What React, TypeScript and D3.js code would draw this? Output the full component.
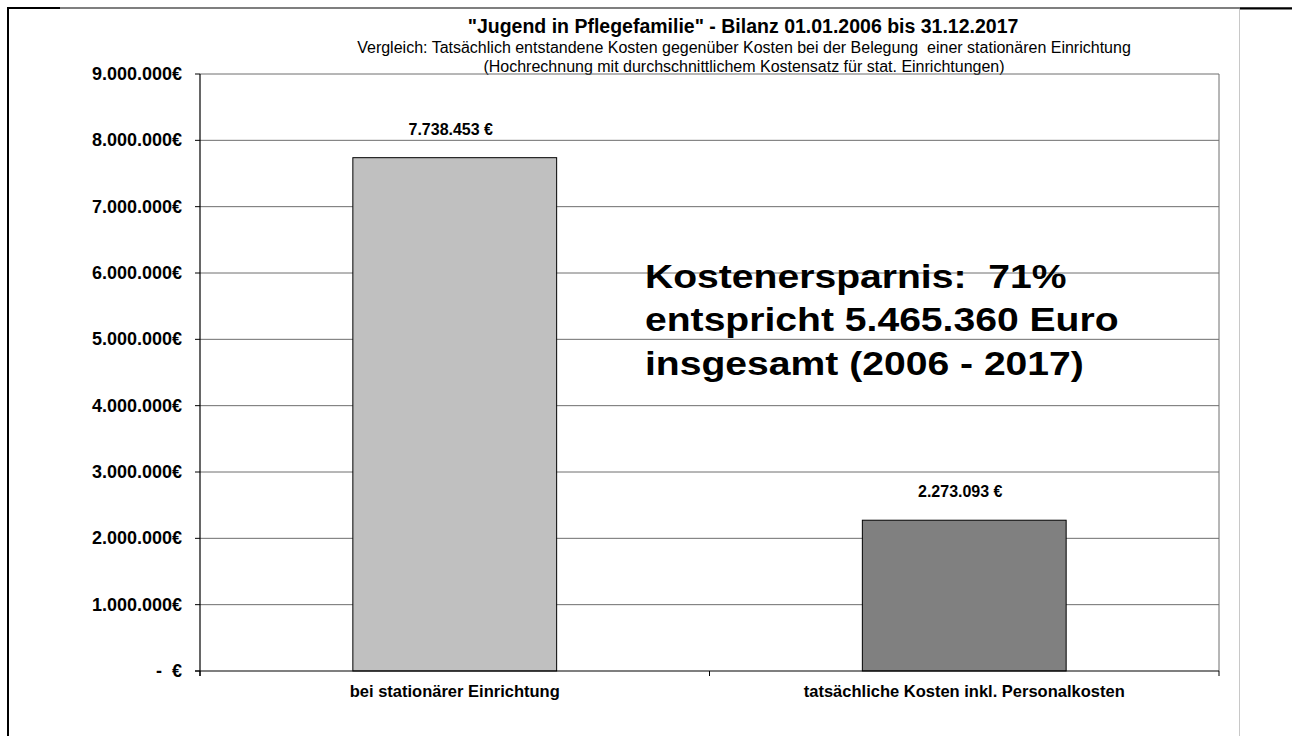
import React from "react";
import * as d3 from "d3";

const categories = ["bei stationärer Einrichtung", "tatsächliche Kosten inkl. Personalkosten"];
const values = [7738453, 2273093];
const barColors = ["#c0c0c0", "#808080"];
const yTicks = [0, 1000000, 2000000, 3000000, 4000000, 5000000, 6000000, 7000000, 8000000, 9000000];
const title = "\"Jugend in Pflegefamilie\" - Bilanz 01.01.2006 bis 31.12.2017";
const subtitle = [
  "Vergleich: Tatsächlich entstandene Kosten gegenüber Kosten bei der Belegung  einer stationären Einrichtung",
  "(Hochrechnung mit durchschnittlichem Kostensatz für stat. Einrichtungen)",
];
const annotation = ["Kostenersparnis:  71%", "entspricht 5.465.360 Euro", "insgesamt (2006 - 2017)"];

const W = 1292;
const H = 736;
const plot = { left: 200, right: 1219, top: 74, bottom: 671 };
const FONT = "'Liberation Sans', Arial, Helvetica, sans-serif";

const de = d3.formatLocale({ decimal: ",", thousands: ".", grouping: [3], currency: ["", "€"] });
const fmtInt = de.format(",.0f");
const tickLabel = (v: number) => (v === 0 ? "-  €" : fmtInt(v) + "€");
const barLabel = (v: number) => fmtInt(v) + " €";

export default function App() {
  const y = d3.scaleLinear().domain([0, 9000000]).range([plot.bottom, plot.top]);
  const x = d3
    .scaleBand<string>()
    .domain(categories)
    .range([plot.left, plot.right])
    .paddingInner(0.6)
    .paddingOuter(0.3);
  const step = x.step();
  const boundaries = [plot.left, ...categories.slice(1).map((c) => (x(c) as number) - (step * 0.6) / 2), plot.right];

  return (
    <svg
      width={W}
      height={H}
      style={{ position: "absolute", left: 0, top: 0, background: "#fff" }}
      fontFamily={FONT}
    >
      <rect x={0} y={0} width={W} height={H} fill="#fff" />
      {/* outer frame */}
      <line x1={7} x2={W} y1={8} y2={8} stroke="#000" strokeWidth={1.2} />
      <line x1={7} x2={60} y1={8} y2={8} stroke="#000" strokeWidth={2} />
      <line x1={1240} x2={W} y1={8.5} y2={8.5} stroke="#000" strokeWidth={2} />
      <line x1={8} x2={8} y1={7} y2={H} stroke="#000" strokeWidth={2} />
      <line x1={1239.5} x2={1239.5} y1={9} y2={H} stroke="#c8c8c8" strokeWidth={1} />

      {/* title */}
      <text x={743} y={33} textAnchor="middle" fontSize={19.5} fontWeight="bold" fill="#000">
        {title}
      </text>
      {subtitle.map((s, i) => (
        <text key={i} x={744} y={53 + i * 19} textAnchor="middle" fontSize={16} fill="#000" style={{ whiteSpace: "pre" }}>
          {s}
        </text>
      ))}

      {/* gridlines */}
      {yTicks
        .filter((t) => t > 0)
        .map((t) => (
          <line key={t} x1={plot.left} x2={plot.right} y1={y(t)} y2={y(t)} stroke="#6e6e6e" strokeWidth={1} />
        ))}
      <line x1={plot.right} x2={plot.right} y1={plot.top} y2={plot.bottom} stroke="#6e6e6e" strokeWidth={1} />

      {/* bars */}
      {categories.map((c, i) => (
        <rect
          key={c}
          x={x(c)}
          y={y(values[i])}
          width={x.bandwidth()}
          height={plot.bottom - y(values[i])}
          fill={barColors[i]}
          stroke="#000"
          strokeWidth={1}
        />
      ))}
      {categories.map((c, i) => (
        <text
          key={c}
          x={(x(c) as number) + x.bandwidth() / 2 - 4}
          y={y(values[i]) - 23}
          textAnchor="middle"
          fontSize={16}
          fontWeight="bold"
          fill="#000"
        >
          {barLabel(values[i])}
        </text>
      ))}

      {/* axes */}
      <line x1={plot.left} x2={plot.left} y1={plot.top} y2={plot.bottom + 5} stroke="#000" strokeWidth={1.2} />
      <line x1={plot.left - 5} x2={plot.right} y1={plot.bottom} y2={plot.bottom} stroke="#000" strokeWidth={1.2} />
      {yTicks.map((t) => (
        <g key={t}>
          <line x1={plot.left - 5} x2={plot.left} y1={y(t)} y2={y(t)} stroke="#000" strokeWidth={1} />
          <text
            x={182}
            y={y(t) + 6}
            textAnchor="end"
            fontSize={18}
            fontWeight="bold"
            fill="#000"
            style={{ whiteSpace: "pre" }}
          >
            {tickLabel(t)}
          </text>
        </g>
      ))}
      {boundaries.map((b, i) => (
        <line key={i} x1={b} x2={b} y1={plot.bottom} y2={plot.bottom + 5} stroke="#000" strokeWidth={1} />
      ))}
      {categories.map((c) => (
        <text
          key={c}
          x={(x(c) as number) + x.bandwidth() / 2}
          y={697}
          textAnchor="middle"
          fontSize={16.5}
          fontWeight="bold"
          fill="#000"
        >
          {c}
        </text>
      ))}

      {/* annotation */}
      <g transform="translate(645,0) scale(1.15,1)">
        {annotation.map((a, i) => (
          <text key={i} x={0} y={288 + i * 43.5} fontSize={34} fontWeight="bold" fill="#000" style={{ whiteSpace: "pre" }}>
            {a}
          </text>
        ))}
      </g>
    </svg>
  );
}
